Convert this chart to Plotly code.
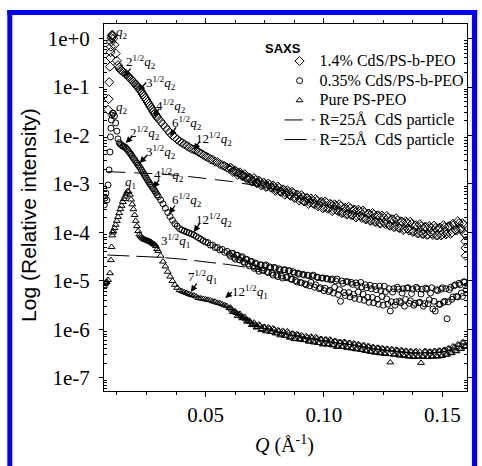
import numpy as np
import plotly.graph_objects as go

# ---------------- data (log10 of relative intensity) ----------------
q_grid = [0.0110, 0.0115, 0.0120, 0.0125, 0.0130, 0.0135, 0.0140, 0.0145, 0.0150, 0.0155,
          0.0160, 0.0165, 0.0170, 0.0175, 0.0180, 0.0185, 0.0190, 0.0195, 0.0200, 0.0205,
          0.0210, 0.0215, 0.0220, 0.0225, 0.0230, 0.0235, 0.0240, 0.0245, 0.0250, 0.0255,
          0.0260, 0.0265, 0.0270, 0.0275, 0.0280, 0.0285, 0.0290, 0.0295, 0.0300,
          0.031, 0.032, 0.033, 0.034, 0.035, 0.036, 0.037, 0.038, 0.039, 0.040,
          0.041, 0.042, 0.043, 0.044, 0.045, 0.046, 0.047, 0.048, 0.049, 0.050,
          0.051, 0.052, 0.053, 0.054, 0.055, 0.056, 0.057, 0.058, 0.059, 0.060,
          0.061, 0.062, 0.063, 0.064, 0.065, 0.066, 0.067, 0.068, 0.069, 0.070,
          0.071, 0.072, 0.073, 0.074, 0.075, 0.076, 0.077, 0.078, 0.079, 0.080,
          0.081, 0.082, 0.083, 0.084, 0.085, 0.086, 0.087, 0.088, 0.089, 0.090,
          0.091, 0.092, 0.093, 0.094, 0.095, 0.096, 0.097, 0.098, 0.099, 0.100,
          0.101, 0.102, 0.103, 0.104, 0.105, 0.106, 0.107, 0.108, 0.109, 0.110,
          0.111, 0.112, 0.113, 0.114, 0.115, 0.116, 0.117, 0.118, 0.119, 0.120,
          0.121, 0.122, 0.123, 0.124, 0.125, 0.126, 0.127, 0.128, 0.129, 0.130,
          0.131, 0.132, 0.133, 0.134, 0.135, 0.136, 0.137, 0.138, 0.139, 0.140,
          0.141, 0.142, 0.143, 0.144, 0.145, 0.146, 0.147, 0.148, 0.149, 0.150,
          0.151, 0.152, 0.153, 0.154, 0.155, 0.156, 0.157, 0.158, 0.159, 0.160]

# second, interleaved sampling of the high-Q part
q_grid_b = [0.0605, 0.0615, 0.0625, 0.0635, 0.0645, 0.0655, 0.0665, 0.0675, 0.0685, 0.0695,
            0.0705, 0.0715, 0.0725, 0.0735, 0.0745, 0.0755, 0.0765, 0.0775, 0.0785, 0.0795,
            0.0805, 0.0815, 0.0825, 0.0835, 0.0845, 0.0855, 0.0865, 0.0875, 0.0885, 0.0895,
            0.0905, 0.0915, 0.0925, 0.0935, 0.0945, 0.0955, 0.0965, 0.0975, 0.0985, 0.0995,
            0.1005, 0.1015, 0.1025, 0.1035, 0.1045, 0.1055, 0.1065, 0.1075, 0.1085, 0.1095,
            0.1105, 0.1115, 0.1125, 0.1135, 0.1145, 0.1155, 0.1165, 0.1175, 0.1185, 0.1195,
            0.1205, 0.1215, 0.1225, 0.1235, 0.1245, 0.1255, 0.1265, 0.1275, 0.1285, 0.1295,
            0.1305, 0.1315, 0.1325, 0.1335, 0.1345, 0.1355, 0.1365, 0.1375, 0.1385, 0.1395,
            0.1405, 0.1415, 0.1425, 0.1435, 0.1445, 0.1455, 0.1465, 0.1475, 0.1485, 0.1495,
            0.1505, 0.1515, 0.1525, 0.1535, 0.1545, 0.1555, 0.1565, 0.1575, 0.1585, 0.1595]

# 1.4% CdS/PS-b-PEO (diamonds)
cds14_low_q = [0.0088, 0.0090, 0.0093, 0.0096, 0.0098, 0.0099, 0.0100, 0.0101, 0.0102, 0.0104, 0.0106, 0.0108]
cds14_low_logI = [-1.47, -1.25, -0.90, -0.58, -0.40, -0.28, -0.17, -0.07, 0.01, 0.06, 0.08, 0.05]
cds14_logI = [0.00, -0.13, -0.31, -0.46, -0.55, -0.60, -0.64, -0.66, -0.68, -0.70,
              -0.72, -0.74, -0.77, -0.79, -0.82, -0.84, -0.87, -0.89, -0.92, -0.95,
              -0.98, -1.01, -1.04, -1.07, -1.11, -1.15, -1.19, -1.23, -1.27, -1.31,
              -1.35, -1.39, -1.43, -1.47, -1.51, -1.55, -1.58, -1.62, -1.65,
              -1.71, -1.77, -1.83, -1.89, -1.95, -2.00, -2.04, -2.08, -2.12, -2.15,
              -2.18, -2.21, -2.24, -2.27, -2.29, -2.31, -2.34, -2.37, -2.40, -2.43,
              -2.45, -2.49, -2.50, -2.54, -2.55, -2.59, -2.61, -2.63, -2.66, -2.69,
              -2.69, -2.74, -2.75, -2.78, -2.81, -2.83, -2.86, -2.88, -2.89, -2.94,
              -2.92, -2.98, -2.96, -3.01, -3.00, -3.05, -3.02, -3.08, -3.06, -3.12,
              -3.08, -3.16, -3.12, -3.19, -3.16, -3.24, -3.19, -3.28, -3.23, -3.31,
              -3.27, -3.36, -3.29, -3.38, -3.33, -3.42, -3.35, -3.44, -3.37, -3.48,
              -3.39, -3.50, -3.42, -3.53, -3.45, -3.56, -3.46, -3.59, -3.49, -3.62,
              -3.51, -3.64, -3.53, -3.66, -3.56, -3.70, -3.58, -3.72, -3.61, -3.75,
              -3.63, -3.78, -3.65, -3.81, -3.68, -3.83, -3.70, -3.86, -3.73, -3.88,
              -3.75, -3.91, -3.78, -3.93, -3.80, -3.96, -3.83, -3.98, -3.85, -4.01,
              -3.87, -4.03, -3.88, -4.04, -3.90, -4.05, -3.91, -4.06, -3.90, -4.04,
              -3.89, -4.02, -3.87, -4.00, -3.84, -3.96, -3.81, -3.92, -3.84, -4.05]
cds14_b_logI = [-2.66, -2.75, -2.72, -2.81, -2.76, -2.84, -2.80, -2.90, -2.87, -2.95,
                -2.88, -2.98, -2.93, -3.03, -2.97, -3.06, -2.99, -3.07, -3.03, -3.14,
                -3.05, -3.16, -3.11, -3.22, -3.13, -3.23, -3.16, -3.29, -3.22, -3.34,
                -3.23, -3.36, -3.29, -3.41, -3.30, -3.40, -3.31, -3.46, -3.38, -3.50,
                -3.36, -3.51, -3.41, -3.56, -3.42, -3.54, -3.42, -3.60, -3.50, -3.63,
                -3.47, -3.64, -3.54, -3.69, -3.53, -3.66, -3.55, -3.73, -3.61, -3.76,
                -3.60, -3.78, -3.65, -3.81, -3.65, -3.80, -3.66, -3.85, -3.73, -3.89,
                -3.71, -3.90, -3.77, -3.95, -3.77, -3.92, -3.78, -3.99, -3.86, -4.02,
                -3.83, -4.03, -3.89, -4.05, -3.87, -4.02, -3.86, -4.06, -3.91, -4.06,
                -3.85, -4.04, -3.88, -4.03, -3.82, -3.95, -3.77, -3.93, -3.81, -4.03]
cds14_tail_q = [0.1597, 0.1598, 0.1599]
cds14_tail_logI = [-4.18, -4.32, -4.48]

# 0.35% CdS/PS-b-PEO (circles)
cds035_low_q = [0.0072, 0.0075, 0.0079, 0.0083, 0.0088, 0.0092, 0.0096, 0.0098, 0.0100, 0.0102, 0.0104, 0.0107]
cds035_low_logI = [-3.43, -3.29, -3.19, -3.33, -3.02, -2.71, -2.34, -2.03, -1.85, -1.68, -1.58, -1.54]
cds035_logI = [-1.54, -1.60, -1.74, -1.91, -2.07, -2.15, -2.18, -2.20, -2.22, -2.23,
               -2.24, -2.27, -2.29, -2.33, -2.36, -2.39, -2.43, -2.47, -2.50, -2.54,
               -2.57, -2.61, -2.64, -2.68, -2.72, -2.76, -2.80, -2.84, -2.88, -2.92,
               -2.96, -3.00, -3.03, -3.07, -3.10, -3.14, -3.18, -3.22, -3.26,
               -3.33, -3.41, -3.50, -3.59, -3.67, -3.75, -3.82, -3.87, -3.92, -3.95,
               -3.97, -3.99, -4.01, -4.03, -4.05, -4.08, -4.11, -4.14, -4.17, -4.20,
               -4.21, -4.26, -4.26, -4.31, -4.31, -4.36, -4.35, -4.41, -4.39, -4.45,
               -4.43, -4.51, -4.47, -4.56, -4.52, -4.60, -4.55, -4.65, -4.60, -4.70,
               -4.63, -4.75, -4.67, -4.78, -4.69, -4.81, -4.71, -4.84, -4.72, -4.88,
               -4.75, -4.90, -4.77, -4.93, -4.79, -4.96, -4.81, -4.99, -4.84, -5.03,
               -4.86, -5.06, -4.88, -5.10, -4.90, -5.13, -4.92, -5.16, -4.94, -5.20,
               -4.95, -5.22, -4.98, -5.25, -5.00, -5.28, -5.42, -5.05, -5.30, -5.02,
               -5.33, -5.07, -5.36, -5.09, -5.38, -5.12, -5.40, -5.14, -5.44, -5.16,
               -5.45, -5.18, -5.48, -5.20, -5.50, -5.22, -5.48, -5.62, -5.23, -5.50,
               -5.13, -5.42, -5.25, -5.52, -5.15, -5.46, -5.26, -5.50, -5.13, -5.45,
               -5.27, -5.52, -5.15, -5.47, -5.25, -5.58, -5.62, -5.20, -5.48, -5.14,
               -5.42, -5.78, -5.18, -5.38, -5.10, -5.32, -5.05, -5.25, -5.02, -5.18]
cds035_b_logI = [-4.49, -4.43, -4.55, -4.47, -4.57, -4.50, -4.63, -4.56, -4.69, -4.60,
                 -4.74, -4.65, -4.80, -4.67, -4.78, -4.67, -4.83, -4.73, -4.88, -4.74,
                 -4.91, -4.77, -4.94, -4.77, -4.92, -4.79, -4.97, -4.84, -5.02, -4.86,
                 -5.04, -4.88, -5.08, -4.89, -5.03, -4.88, -5.08, -4.93, -5.14, -4.94,
                 -5.15, -4.96, -5.19, -4.96, -5.13, -4.96, -5.18, -5.00, -5.24, -5.01,
                 -5.24, -5.03, -5.28, -5.04, -5.23, -5.03, -5.27, -5.08, -5.34, -5.09,
                 -5.34, -5.11, -5.38, -5.11, -5.32, -5.11, -5.37, -5.16, -5.43, -5.16,
                 -5.43, -5.17, -5.45, -5.16, -5.38, -5.14, -5.41, -5.17, -5.46, -5.16,
                 -5.44, -5.17, -5.47, -5.17, -5.39, -5.14, -5.42, -5.18, -5.48, -5.17,
                 -5.44, -5.16, -5.43, -5.13, -5.33, -5.08, -5.33, -5.08, -5.32, -5.02]

# Pure PS-PEO (triangles)
pure_low_q = [0.0071, 0.0074, 0.0077, 0.0080, 0.0083, 0.0088, 0.0096, 0.0100, 0.0103, 0.0106, 0.0108]
pure_low_logI = [-5.10, -5.06, -5.04, -5.03, -5.02, -4.98, -4.84, -4.57, -4.30, -4.06, -4.00]
pure_logI = [-3.97, -3.91, -3.84, -3.76, -3.68, -3.60, -3.52, -3.45, -3.37, -3.31,
             -3.26, -3.20, -3.15, -3.16, -3.22, -3.32, -3.42, -3.52, -3.64, -3.76,
             -3.87, -3.97, -4.04, -4.07, -4.10, -4.12, -4.14, -4.15, -4.16, -4.17,
             -4.18, -4.19, -4.20, -4.22, -4.24, -4.25, -4.28, -4.34, -4.38,
             -4.48, -4.60, -4.70, -4.81, -4.91, -5.00, -5.08, -5.14, -5.19, -5.21,
             -5.23, -5.25, -5.27, -5.29, -5.30, -5.32, -5.35, -5.36, -5.37, -5.38,
             -5.39, -5.40, -5.42, -5.43, -5.45, -5.46, -5.48, -5.50, -5.52, -5.56,
             -5.59, -5.63, -5.66, -5.69, -5.73, -5.76, -5.79, -5.82, -5.85, -5.89,
             -5.91, -5.95, -5.92, -5.99, -5.95, -6.02, -5.98, -6.05, -6.00, -6.08,
             -6.03, -6.10, -6.05, -6.13, -6.07, -6.16, -6.09, -6.19, -6.11, -6.21,
             -6.14, -6.22, -6.16, -6.25, -6.17, -6.27, -6.18, -6.28, -6.20, -6.30,
             -6.21, -6.31, -6.23, -6.33, -6.24, -6.35, -6.26, -6.36, -6.27, -6.38,
             -6.28, -6.39, -6.30, -6.40, -6.32, -6.42, -6.33, -6.44, -6.35, -6.46,
             -6.37, -6.47, -6.38, -6.49, -6.40, -6.50, -6.41, -6.68, -6.42, -6.52,
             -6.43, -6.54, -6.44, -6.55, -6.45, -6.56, -6.46, -6.57, -6.45, -6.56,
             -6.69, -6.56, -6.45, -6.57, -6.46, -6.56, -6.45, -6.56, -6.44, -6.54,
             -6.42, -6.52, -6.40, -6.49, -6.37, -6.45, -6.32, -6.40, -6.27, -6.34]
pure_b_logI = [-5.55, -5.64, -5.63, -5.72, -5.68, -5.77, -5.74, -5.84, -5.82, -5.91,
               -5.86, -5.96, -5.90, -6.01, -5.95, -6.04, -5.96, -6.05, -5.98, -6.08,
               -6.02, -6.12, -6.03, -6.13, -6.04, -6.17, -6.09, -6.20, -6.10, -6.20,
               -6.12, -6.22, -6.14, -6.25, -6.15, -6.25, -6.16, -6.28, -6.20, -6.31,
               -6.21, -6.31, -6.21, -6.32, -6.24, -6.36, -6.26, -6.36, -6.26, -6.37,
               -6.28, -6.39, -6.29, -6.41, -6.31, -6.42, -6.33, -6.44, -6.35, -6.46,
               -6.37, -6.48, -6.38, -6.49, -6.39, -6.50, -6.40, -6.51, -6.41, -6.52,
               -6.42, -6.52, -6.43, -6.53, -6.44, -6.55, -6.45, -6.56, -6.46, -6.56,
               -6.46, -6.56, -6.45, -6.57, -6.46, -6.56, -6.45, -6.55, -6.44, -6.55,
               -6.43, -6.52, -6.39, -6.48, -6.35, -6.44, -6.31, -6.40, -6.27, -6.36]

# R = 25 A CdS particle curves
sphere1_q = [0.0085, 0.020, 0.030, 0.040, 0.050, 0.060, 0.070, 0.080, 0.085]
sphere1_logI = [-2.745, -2.764, -2.791, -2.830, -2.881, -2.944, -3.021, -3.112, -3.164]
sphere2_q = [0.0085, 0.020, 0.030, 0.040, 0.050, 0.060, 0.070, 0.075]
sphere2_logI = [-4.465, -4.484, -4.511, -4.550, -4.601, -4.664, -4.741, -4.785]

series_names = ["1.4% CdS/PS-b-PEO", "0.35% CdS/PS-b-PEO", "Pure PS-PEO",
                "R=25\u00c5\u00a0 CdS particle", "R=25\u00c5\u00a0 CdS particle"]

y_tick_vals = [1, 1e-1, 1e-2, 1e-3, 1e-4, 1e-5, 1e-6, 1e-7]
y_tick_text = ["1e+0", "1e-1", "1e-2", "1e-3", "1e-4", "1e-5", "1e-6", "1e-7"]

# ---------------- figure ----------------
SERIF = "Liberation Serif"
SANS = "Liberation Sans"
LEG = lambda s: '<span style="font-size:16px">' + s + '</span>'

fig = go.Figure()

def pts(*pairs):
    q, L = [], []
    for a, b in pairs:
        q += list(a)
        L += list(b)
    return q, (10.0 ** np.array(L)).tolist()

x, y = pts((cds14_low_q, cds14_low_logI), (q_grid, cds14_logI), (q_grid_b, cds14_b_logI),
           (cds14_tail_q, cds14_tail_logI))
fig.add_trace(go.Scatter(x=x, y=y, mode="markers", name=LEG(series_names[0]),
                         marker=dict(symbol="diamond-open", size=7, color="black", line=dict(width=1))))
x, y = pts((cds035_low_q, cds035_low_logI), (q_grid, cds035_logI), (q_grid_b, cds035_b_logI))
fig.add_trace(go.Scatter(x=x, y=y, mode="markers", name=LEG(series_names[1]),
                         marker=dict(symbol="circle-open", size=6, color="black", line=dict(width=1))))
x, y = pts((pure_low_q, pure_low_logI), (q_grid, pure_logI), (q_grid_b, pure_b_logI))
fig.add_trace(go.Scatter(x=x, y=y, mode="markers", name=LEG(series_names[2]),
                         marker=dict(symbol="triangle-up-open", size=6, color="black", line=dict(width=1))))
fig.add_trace(go.Scatter(x=sphere1_q, y=(10.0 ** np.array(sphere1_logI)).tolist(), mode="lines",
                         name=LEG(series_names[3]),
                         line=dict(color="black", width=1, dash="18px,9px")))
fig.add_trace(go.Scatter(x=sphere2_q, y=(10.0 ** np.array(sphere2_logI)).tolist(), mode="lines",
                         name=LEG(series_names[4]),
                         line=dict(color="black", width=1, dash="22px,7px")))

# peak labels (x, log10 y, text) and arrows (head x, head log10 y, ax, ay)
s = lambda n, k: n + "<sup>1/2</sup><i>q</i><sub>" + k + "</sub>"
peak_labels = [
    (0.01458, 0.134, "<i>q</i><sub>2</sub>"), (0.0225, -0.485, s("2", "2")), (0.03125, -0.918, s("3", "2")),
    (0.03542, -1.392, s("4", "2")), (0.0423, -1.750, s("6", "2")), (0.0534, -2.070, s("12", "2")),
    (0.01458, -1.412, "<i>q</i><sub>2</sub>"), (0.02458, -1.948, s("2", "2")), (0.03125, -2.340, s("3", "2")),
    (0.03458, -2.814, s("4", "2")), (0.0423, -3.340, s("6", "2")), (0.0534, -3.740, s("12", "2")),
    (0.01833, -2.979, "<i>q</i><sub>1</sub>"), (0.03708, -4.175, s("3", "1")),
    (0.04875, -4.918, s("7", "1")), (0.06875, -5.227, s("12", "1")),
]
peak_arrows = [
    (0.01542, -0.794, 8, -10), (0.02167, -1.082, 9, -10), (0.02792, -1.619, 7, -10),
    (0.0350, -2.010, 7, -10), (0.0450, -2.299, 7, -10),
    (0.01625, -2.155, 8, -8), (0.02208, -2.567, 9, -9), (0.02792, -3.082, 7, -10),
    (0.03458, -3.619, 7, -10), (0.0450, -3.990, 7, -10),
    (0.04375, -5.227, 7, -10), (0.05833, -5.351, 8, -7),
]

annos = []
for xa, ya, t in peak_labels:
    annos.append(dict(x=xa, y=ya, xref="x", yref="y", text=t, showarrow=False,
                      xanchor="center", yanchor="middle",
                      font=dict(family=SERIF, size=13, color="black")))
for xa, ya, ax, ay in peak_arrows:
    annos.append(dict(x=xa, y=ya, xref="x", yref="y", text="", showarrow=True,
                      ax=ax, ay=ay, arrowhead=2, arrowsize=1.0, arrowwidth=1.3,
                      arrowcolor="black", standoff=0, startstandoff=0))

annos.append(dict(x=0.4918, y=0.9346, xref="paper", yref="paper", text="<b>SAXS</b>",
                  xanchor="center", yanchor="middle",
                  showarrow=False, font=dict(family=SANS, size=13, color="black")))
annos.append(dict(x=-0.2065, y=0.48, xref="paper", yref="paper", text="Log (Relative intensity)",
                  xanchor="center", yanchor="middle",
                  textangle=-90, showarrow=False, font=dict(family=SANS, size=21, color="black")))
annos.append(dict(x=0.497, y=-0.147, xref="paper", yref="paper",
                  xanchor="center", yanchor="middle",
                  text="<i>Q</i> (\u00c5<sup>-1</sup>)", showarrow=False,
                  font=dict(family=SERIF, size=20, color="black")))

blue = "#0000FF"
shapes = [
    dict(type="rect", xref="paper", yref="paper", x0=-0.2663, x1=-0.2527, y0=-0.22, y1=1.038,
         fillcolor=blue, line=dict(width=0)),
    dict(type="rect", xref="paper", yref="paper", x0=-0.2663, x1=1.028, y0=1.0245, y1=1.038,
         fillcolor=blue, line=dict(width=0)),
    dict(type="rect", xref="paper", yref="paper", x0=1.0136, x1=1.028, y0=-0.22, y1=1.038,
         fillcolor=blue, line=dict(width=0)),
]

minor_y = [m * 10.0 ** e for e in range(-8, 1) for m in range(2, 10)]

fig.update_layout(
    width=482, height=466,
    margin=dict(l=104, r=10, t=24, b=75),
    paper_bgcolor="white", plot_bgcolor="white",
    showlegend=True,
    legend=dict(x=0.4837, y=0.9395, xanchor="left", yanchor="top",
                bgcolor="rgba(0,0,0,0)", borderwidth=0,
                font=dict(family=SERIF, size=12.8, color="black")),
    annotations=annos, shapes=shapes,
    xaxis=dict(range=[0.00708, 0.16042], dtick=0.05, tick0=0, tickformat=".2f",
               showline=True, linecolor="black", linewidth=1, mirror="allticks",
               ticks="outside", ticklen=5, tickcolor="black", showgrid=False, zeroline=False,
               tickfont=dict(family=SERIF, size=21, color="black"),
               minor=dict(tick0=0, dtick=0.0125, ticks="outside", ticklen=3, tickcolor="black", showgrid=False)),
    yaxis=dict(type="log", range=[-7.27, 0.30], tickmode="array", tickvals=y_tick_vals, ticktext=y_tick_text,
               showline=True, linecolor="black", linewidth=1, mirror="allticks",
               ticks="outside", ticklen=4, tickcolor="black", showgrid=False, zeroline=False,
               ticklabelstandoff=5,
               tickfont=dict(family=SERIF, size=21, color="black"),
               minor=dict(tickmode="array", tickvals=minor_y, ticks="inside", ticklen=3,
                          tickcolor="black", showgrid=False)),
)

fig.write_html("out.html", config={"displayModeBar": False},
               post_script="document.body.style.margin='0px';document.body.style.overflow='hidden';")
